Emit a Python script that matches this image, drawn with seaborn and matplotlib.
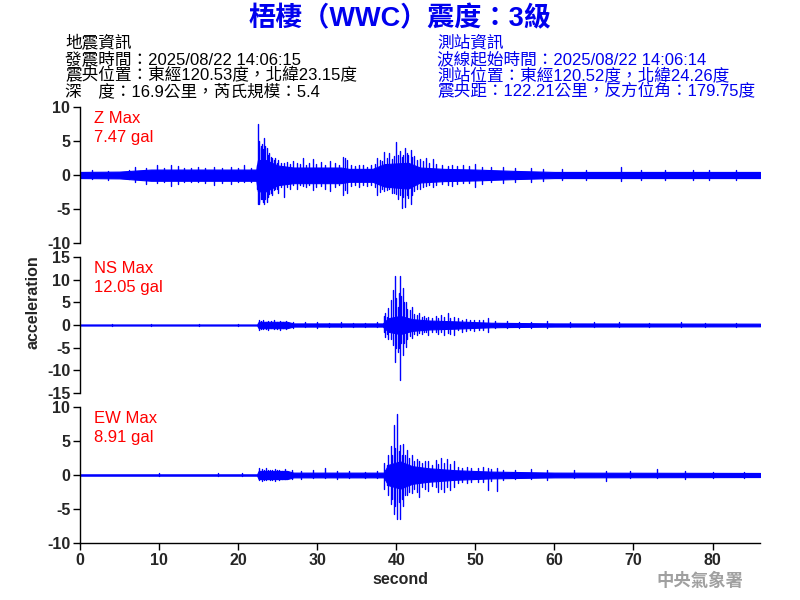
import matplotlib
matplotlib.use("Agg")
import matplotlib.pyplot as plt
import numpy as np
import pandas as pd
import seaborn as sns

# ---- header text ----
title = "梧棲（WWC）震度：3級"
quake_info = ["地震資訊",
              "發震時間：2025/08/22 14:06:15",
              "震央位置：東經120.53度，北緯23.15度",
              "深　度：16.9公里，芮氏規模：5.4"]
station_info = ["測站資訊",
                "波線起始時間：2025/08/22 14:06:14",
                "測站位置：東經120.52度，北緯24.26度",
                "震央距：122.21公里，反方位角：179.75度"]

channels = ["Z", "NS", "EW"]
max_labels = ["7.47 gal", "12.05 gal", "8.91 gal"]
y_limits = [10, 15, 10]
x_ticks = [0, 10, 20, 30, 40, 50, 60, 70, 80]

# ---- waveform readings (gal) ----
# dense core band of the trace: breakpoints + upper/lower edge
band_t_z = [0, 5, 9, 22.3, 22.5, 23.5, 25, 27, 33, 34, 37, 38.5, 41.5, 43, 46, 50, 55, 60, 86]
band_up_z = [0.45, 0.5, 0.8, 0.8, 2.2, 2.2, 1.4, 1.1, 1.1, 0.9, 0.9, 1.6, 1.8, 1.1, 0.9, 0.8, 0.6, 0.45, 0.45]
band_lo_z = [-0.45, -0.5, -0.85, -0.85, -2.4, -2.4, -1.5, -1.2, -1.2, -1.0, -1.0, -1.7, -2.0, -1.1, -0.9, -0.8, -0.6, -0.45, -0.45]

band_t_ns = [0, 22.4, 22.6, 26.2, 27, 38.3, 39.0, 40.5, 42, 44, 47.5, 52, 60, 86]
band_up_ns = [0.12, 0.12, 0.7, 0.7, 0.35, 0.35, 1.5, 2.0, 1.3, 1.0, 0.8, 0.5, 0.35, 0.3]
band_lo_ns = [-0.12, -0.12, -0.7, -0.7, -0.35, -0.35, -1.5, -2.0, -1.3, -1.0, -0.8, -0.5, -0.35, -0.3]

band_t_ew = [0, 22.4, 22.6, 26.2, 27, 38.4, 39.0, 40.5, 42, 44, 47.5, 52, 60, 86]
band_up_ew = [0.1, 0.1, 0.6, 0.6, 0.35, 0.35, 1.5, 2.0, 1.3, 1.0, 0.7, 0.5, 0.35, 0.3]
band_lo_ew = [-0.1, -0.1, -0.6, -0.6, -0.35, -0.35, -1.5, -2.0, -1.3, -1.0, -0.7, -0.5, -0.35, -0.3]

# individual peaks sticking out of the band: time, top, bottom
spike_t_z = [1.5, 3.5, 6.2, 7.0, 8.3, 9.7, 10.6, 11.5, 12.4, 13.2, 14.0, 14.9, 15.8, 16.9,
             18.0, 19.1, 20.0, 20.8, 21.6,
             22.4, 22.5, 22.6, 22.7, 22.85, 23.0, 23.15, 23.3, 23.45, 23.6, 23.75, 23.9,
             24.1, 24.3, 24.5, 24.7, 24.9, 25.1, 25.4, 25.8, 26.2, 26.6, 27.0, 27.4, 27.8,
             28.2, 28.6, 29.0, 29.5, 29.9, 30.5, 31.0, 31.6, 32.2, 32.7, 33.2, 33.5, 33.8,
             34.3, 34.8, 35.3, 35.8, 36.3, 36.8, 37.3, 37.6, 37.9, 38.2, 38.5, 38.8, 39.1,
             39.4, 39.7, 40.0, 40.25, 40.5, 40.7, 40.9, 41.1, 41.3, 41.5, 41.8, 42.0, 42.3,
             42.6, 43.0, 43.4, 43.8, 44.2, 44.6, 45.0, 45.8, 46.5, 47.0, 47.7, 48.4, 49.2,
             50.0, 50.8, 52.0, 53.5, 55.0, 57.0, 58.5, 61.0, 64.0, 68.4, 71.0, 74.0, 77.5,
             79.6, 83.0]
spike_hi_z = [0.7, 0.6, 0.7, 1.2, 1.0, 1.4, 1.1, 1.5, 1.3, 1.0, 1.1, 1.2, 1.0, 1.2,
              1.0, 1.2, 1.1, 1.4, 1.1,
              1.5, 7.45, 4.0, 5.0, 4.3, 4.5, 3.8, 5.4, 4.2, 3.9, 3.0, 3.3,
              2.6, 2.5, 2.2, 2.5, 1.8, 2.2, 1.7, 1.8, 1.9, 1.6, 2.0, 1.7, 1.6,
              2.5, 1.5, 1.8, 2.3, 1.6, 1.9, 1.5, 2.0, 1.8, 1.5, 2.7, 2.5, 2.2,
              1.4, 1.3, 1.5, 1.4, 1.2, 1.4, 1.6, 2.5, 2.2, 2.0, 3.4, 2.5, 3.3,
              2.3, 2.8, 4.8, 3.0, 3.6, 2.6, 3.0, 4.0, 3.2, 3.0, 3.7, 2.6, 2.8,
              2.2, 2.4, 2.0, 2.5, 1.8, 2.3, 1.6, 1.5, 1.3, 1.4, 1.3, 1.5, 1.3,
              1.6, 1.2, 1.2, 1.2, 1.0, 1.0, 0.9, 0.9, 0.8, 1.2, 0.7, 0.8, 0.8,
              0.8, 0.7]
spike_lo_z = [-0.6, -0.7, -0.6, -1.0, -1.3, -1.2, -1.0, -1.6, -1.3, -1.1, -1.0, -1.1, -1.2, -1.5,
              -1.2, -1.3, -1.0, -1.0, -1.1,
              -2.0, -4.3, -4.0, -4.2, -3.6, -3.5, -4.0, -4.2, -3.5, -3.9, -3.2, -2.8,
              -2.6, -2.9, -2.2, -2.0, -2.1, -2.6, -1.8, -3.3, -1.7, -2.0, -1.5, -2.0, -1.4,
              -1.6, -1.8, -1.5, -2.2, -1.7, -1.6, -2.0, -2.4, -1.7, -1.5, -2.9, -2.2, -2.6,
              -1.6, -1.5, -1.7, -1.4, -1.6, -1.4, -1.8, -3.0, -2.5, -2.0, -2.4, -2.2, -2.0,
              -2.6, -2.6, -2.8, -3.5, -3.0, -4.9, -3.2, -4.7, -3.0, -3.4, -4.3, -3.0, -2.4,
              -2.0, -2.0, -1.8, -1.6, -1.5, -1.8, -1.5, -1.3, -1.4, -1.6, -1.3, -1.2, -1.2,
              -1.8, -1.3, -1.0, -1.2, -1.0, -1.0, -0.9, -0.8, -0.7, -0.9, -0.7, -0.8, -0.7,
              -0.7, -0.7]

spike_t_ns = [4.0, 9.0, 15.0, 20.0,
              22.6, 22.9, 23.2, 23.5, 23.8, 24.1, 24.5, 24.9, 25.3, 25.7, 26.0, 27.0, 28.5,
              30.0, 31.5, 33.0, 34.5, 36.0,
              37.5, 38.4, 38.6, 38.8, 39.0, 39.3, 39.6, 39.8, 40.0, 40.2, 40.35, 40.5, 40.65,
              40.8, 41.0, 41.2, 41.4, 41.7, 42.0, 42.3, 42.6, 42.9, 43.2, 43.5, 43.8, 44.0,
              44.5, 45.0, 45.3, 45.7, 46.0, 46.5, 46.8, 47.3, 47.8, 48.3, 48.8, 49.3, 49.8,
              50.5, 51.0, 51.6, 52.5, 54.0, 55.5, 57.0, 59.0, 62.0, 65.0, 68.2, 72.0, 76.0,
              79.0, 83.0]
spike_hi_ns = [0.3, 0.25, 0.3, 0.3,
               1.0, 0.8, 1.1, 0.7, 0.9, 0.8, 1.1, 0.7, 0.8, 0.7, 0.9, 0.6, 0.7,
               0.6, 0.5, 0.7, 0.5, 0.5,
               0.6, 2.0, 2.6, 1.8, 3.7, 5.5, 7.7, 10.7, 6.0, 4.0, 7.0, 10.7, 6.5,
               8.1, 5.0, 5.1, 3.5, 3.2, 4.0, 2.5, 2.2, 2.6, 1.8, 2.0, 1.5, 1.8,
               1.5, 2.0, 1.6, 2.2, 1.8, 2.6, 1.5, 1.8, 1.5, 1.2, 1.4, 1.2, 1.0,
               1.2, 1.0, 1.5, 0.8, 0.9, 0.7, 0.7, 0.8, 0.6, 0.6, 0.7, 0.5, 0.6,
               0.5, 0.5]
spike_lo_ns = [-0.2, -0.2, -0.2, -0.2,
               -1.1, -0.8, -0.9, -0.8, -1.0, -0.7, -0.8, -0.9, -1.0, -0.7, -0.8, -0.6, -0.5,
               -0.6, -0.5, -0.5, -0.5, -0.5,
               -0.5, -1.6, -2.6, -2.0, -3.0, -3.0, -4.4, -8.2, -5.0, -6.0, -5.0, -12.05, -4.0,
               -6.6, -4.0, -4.8, -3.0, -2.5, -2.9, -2.0, -2.2, -1.8, -2.0, -1.5, -1.6, -2.2,
               -1.5, -1.5, -2.0, -1.6, -2.2, -1.7, -2.0, -2.2, -1.2, -1.5, -1.3, -1.2, -1.4,
               -1.0, -1.2, -1.6, -0.7, -0.6, -0.7, -0.6, -0.6, -0.4, -0.5, -0.5, -0.4, -0.4,
               -0.4, -0.4]

spike_t_ew = [10.0, 17.5, 20.5,
              22.6, 23.0, 23.3, 23.5, 23.8, 24.0, 24.3, 24.6, 24.9, 25.2, 25.5, 25.9, 26.8,
              28.0, 29.5, 31.0, 32.5, 34.0,
              36.0, 37.5, 38.5, 38.8, 39.0, 39.3, 39.5, 39.7, 39.9, 40.1, 40.3, 40.5, 40.7,
              40.9, 41.1, 41.3, 41.6, 42.0, 42.3, 42.6, 42.9, 43.2, 43.6, 44.0, 44.5, 45.0,
              45.3, 45.7, 46.0, 46.4, 46.8, 47.3, 47.8, 48.3, 48.9, 49.5, 50.3, 51.0, 51.6,
              52.0, 52.7, 53.5, 55.0, 57.0, 59.0, 62.5, 66.5, 69.5, 73.0, 76.5, 80.0, 84.0]
spike_hi_ew = [0.3, 0.25, 0.3,
               1.0, 0.9, 0.7, 1.0, 0.8, 0.8, 0.7, 0.9, 0.7, 0.8, 0.6, 0.9, 0.7,
               0.6, 0.7, 1.0, 0.6, 0.6,
               0.5, 0.6, 1.7, 1.5, 3.0, 4.2, 3.0, 7.4, 4.0, 8.9, 3.5, 4.4, 3.0,
               4.5, 3.0, 3.7, 2.5, 2.9, 2.0, 2.3, 2.0, 1.8, 2.0, 2.1, 1.5, 2.2,
               1.6, 2.5, 1.8, 2.4, 1.6, 2.0, 1.2, 1.1, 1.2, 1.0, 1.1, 1.2, 1.0,
               0.9, 1.0, 0.8, 0.8, 0.9, 0.8, 0.7, 0.6, 0.6, 0.9, 0.6, 0.5, 0.5]
spike_lo_ew = [-0.15, -0.15, -0.2,
               -0.8, -0.9, -0.7, -0.8, -0.6, -0.7, -0.8, -0.9, -0.6, -0.7, -0.6, -0.6, -0.6,
               -0.6, -0.5, -0.5, -0.6, -0.5,
               -0.5, -0.5, -2.0, -1.5, -3.0, -4.2, -3.5, -5.8, -4.5, -6.4, -4.0, -6.4, -3.5,
               -4.5, -3.0, -3.0, -2.5, -2.7, -2.0, -2.5, -3.2, -1.8, -2.0, -2.3, -1.6, -1.8,
               -2.5, -2.0, -2.5, -1.8, -2.2, -1.8, -1.2, -1.0, -1.2, -1.0, -1.1, -1.0, -2.2,
               -0.9, -2.3, -0.7, -0.6, -0.6, -0.7, -0.5, -0.9, -0.5, -0.5, -0.6, -0.5, -0.4]

bands = [(band_t_z, band_up_z, band_lo_z),
         (band_t_ns, band_up_ns, band_lo_ns),
         (band_t_ew, band_up_ew, band_lo_ew)]
spikes = [(spike_t_z, spike_hi_z, spike_lo_z),
          (spike_t_ns, spike_hi_ns, spike_lo_ns),
          (spike_t_ew, spike_hi_ew, spike_lo_ew)]


def spikes_frame(t, hi, lo):
    # one unit per peak: a vertical stroke from bottom to top
    rows = []
    for i, (tt, h, l) in enumerate(zip(t, hi, lo)):
        rows.append({"t": tt, "v": l, "unit": i})
        rows.append({"t": tt, "v": h, "unit": i})
    return pd.DataFrame(rows)


sns.set_theme(style="ticks")
plt.rcParams["font.family"] = ["Liberation Sans", "Noto Sans CJK TC", "DejaVu Sans"]
plt.rcParams["axes.unicode_minus"] = False

fig = plt.figure(figsize=(8, 6), dpi=100)
wave_color = "#0000ff"

panel_bottoms = [1 - 243 / 600, 1 - 393 / 600, 1 - 543 / 600]
for k, ch in enumerate(channels):
    ax = fig.add_axes([80 / 800, panel_bottoms[k], 680 / 800, 136 / 600])
    bt, bu, bl = bands[k]
    ax.fill_between(bt, bl, bu, color=wave_color, linewidth=0.8)
    sdf = spikes_frame(*spikes[k])
    sns.lineplot(data=sdf, x="t", y="v", units="unit", estimator=None,
                 color=wave_color, linewidth=1.0, legend=False, ax=ax)

    lim = y_limits[k]
    ax.set_xlim(0, 86)
    ax.set_ylim(-lim, lim)
    ax.set_yticks(np.arange(-lim, lim + 1, 5))
    ax.set_xlabel("")
    ax.set_ylabel("")
    sns.despine(ax=ax, top=True, right=True, bottom=(k < 2))
    ax.tick_params(axis="y", labelsize=11.5, length=5, width=1, color="black", pad=2)
    for lbl in ax.get_yticklabels():
        lbl.set_fontweight("bold")
    if k < 2:
        ax.set_xticks([])
    else:
        ax.set_xticks(x_ticks)
        ax.tick_params(axis="x", labelsize=11.5, length=5, width=1, color="black", pad=2)
        for lbl in ax.get_xticklabels():
            lbl.set_fontweight("bold")
    for sp in ["left", "bottom"]:
        ax.spines[sp].set_color("black")
        ax.spines[sp].set_linewidth(1)

    ax.text(14 / 680, 0.919, f"{ch} Max", transform=ax.transAxes, color="red",
            fontsize=12, va="center", ha="left")
    ax.text(14 / 680, 0.779, max_labels[k], transform=ax.transAxes, color="red",
            fontsize=12, va="center", ha="left")

fig.text(400 / 800, 1 - 19 / 600, title, color="#0000ee", fontsize=19.5,
         fontweight="bold", ha="center", va="center")

line_y = [43, 59, 75, 91]
for y, s in zip(line_y, quake_info):
    fig.text(65 / 800, 1 - y / 600, s, color="black", fontsize=12, ha="left", va="center")
for y, s in zip(line_y, station_info):
    fig.text(437 / 800, 1 - y / 600, s, color="#0000ee", fontsize=12, ha="left", va="center")

fig.text(33 / 800, 1 - 302 / 600, "acceleration", rotation=90, fontsize=11.5,
         fontweight="bold", ha="center", va="center")
fig.text(400 / 800, 1 - 580 / 600, "second", fontsize=11.5, fontweight="bold",
         ha="center", va="center")
fig.text(700 / 800, 1 - 580 / 600, "中央氣象署", color="#a0a0a0", fontsize=12.5,
         fontweight="bold", ha="center", va="center")

fig.savefig("out.png", dpi=100, facecolor="white")
plt.close(fig)
